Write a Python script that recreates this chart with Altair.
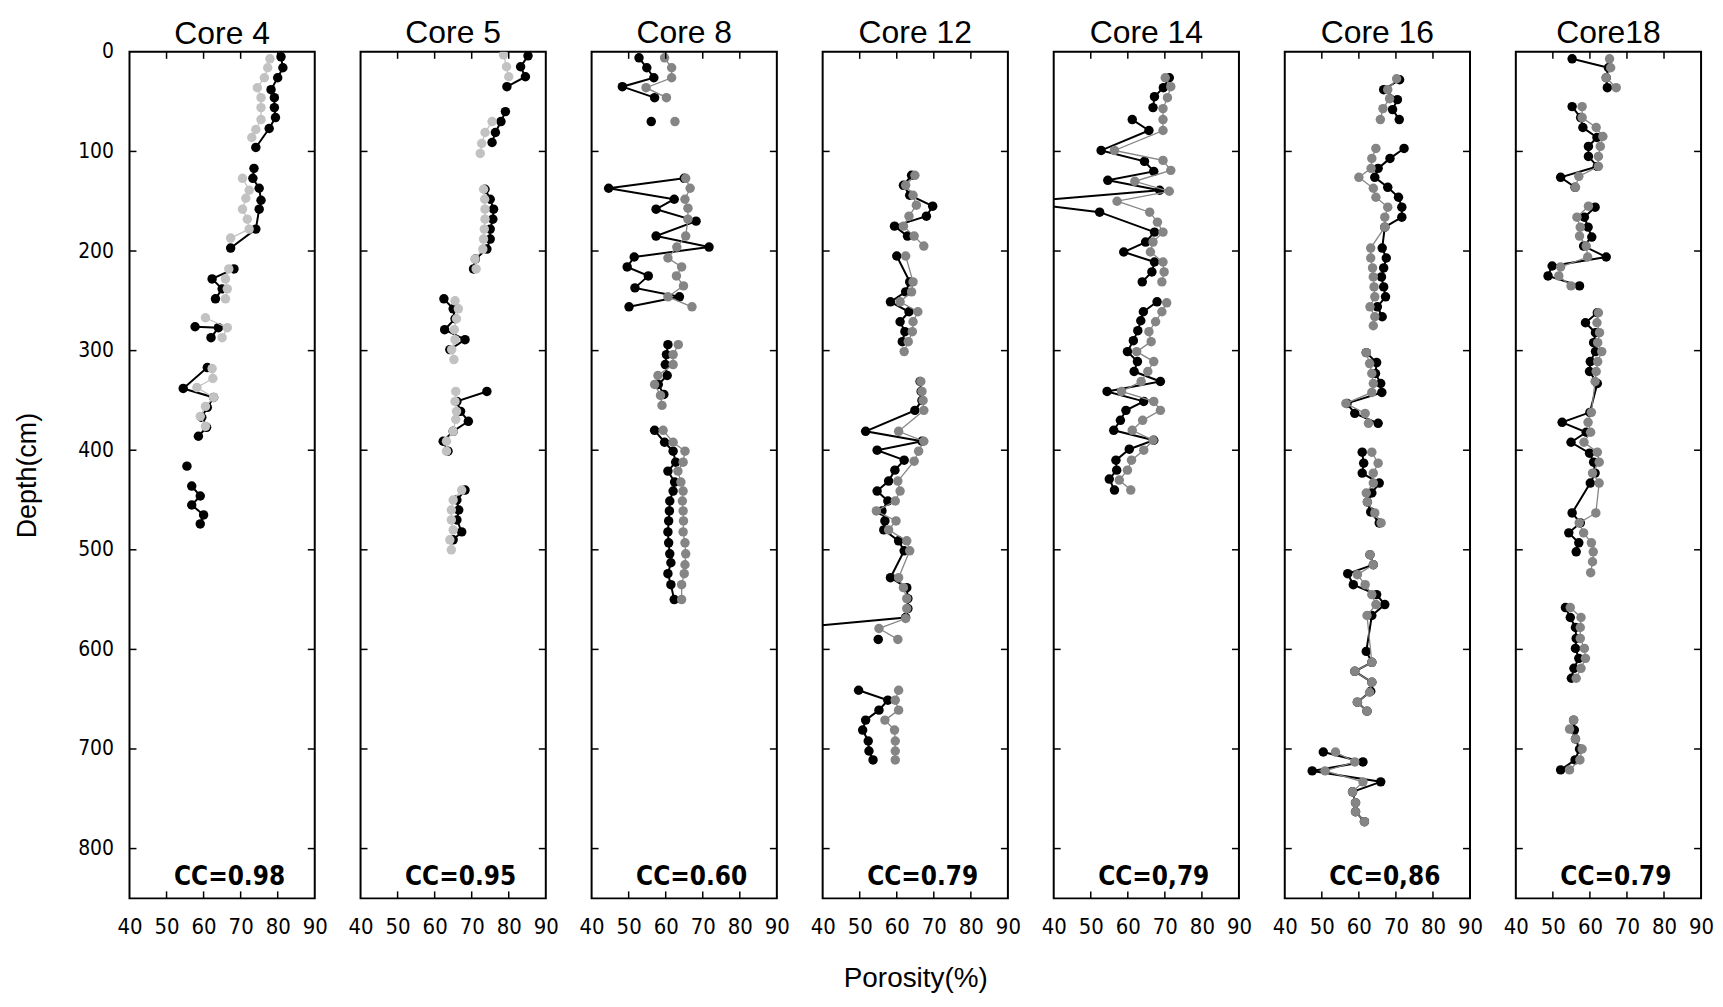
import altair as alt
import pandas as pd

CORES = ["Core 4", "Core 5", "Core 8", "Core 12", "Core 14", "Core 16", "Core18"]
CC_LABELS = ["CC=0.98", "CC=0.95", "CC=0.60", "CC=0.79", "CC=0,79", "CC=0,86", "CC=0.79"]
X_TICKS = [40, 50, 60, 70, 80, 90]
Y_TICKS = [0, 100, 200, 300, 400, 500, 600, 700, 800]

# each list: segments of (depth cm, porosity %)
CORE4_BLACK = [
    [(5, 80.9), (16, 81.4), (26, 80), (38, 78.2), (46, 79.1), (56, 79.1), (66, 79.4), (77, 77.7), (96, 74.1)],
    [(117, 73.6), (127, 73.3), (137, 75), (149, 75.5), (158, 75), (178, 74.1), (197, 67.3)],
    [(218, 68.2), (228, 62.3), (238, 65), (248, 63.2)],
    [(276, 57.7), (277, 64), (287, 62)],
    [(317, 61), (338, 54.5), (347, 62.7), (357, 61), (367, 59.5), (377, 60.8), (386, 58.6)],
    [(416, 55.5)],
    [(436, 56.8), (446, 59.1), (455, 56.8), (465, 60), (474, 59.1)],
]
CORE4_GRAY = [
    [(7, 77.9), (16, 77.3), (26, 76.4), (36, 74.5), (46, 75.5), (56, 75.5), (68, 75.5), (78, 74.1), (86, 73)],
    [(127, 70.5), (139, 72.3), (147, 71.4), (158, 70.5), (168, 71.8), (178, 72.3), (187, 67.3)],
    [(218, 66.8), (228, 65.9), (238, 66.4), (248, 65.9)],
    [(267, 60.5), (277, 66.4), (287, 65)],
    [(318, 62.3), (328, 62.5), (337, 58.2), (347, 62.7), (356, 60.5), (366, 59.1), (376, 60.5)],
]
CORE5_BLACK = [
    [(4, 85.2), (15, 83.2), (25, 84.5), (35, 79.5)],
    [(60, 79.1), (70, 77.9), (81, 76.4), (91, 75.5)],
    [(138, 73.6), (148, 75), (158, 75.9), (168, 75.7), (178, 75), (188, 75), (198, 74.1), (208, 71), (218, 70.5)],
    [(248, 62.5), (258, 65), (268, 65.5), (279, 62.7), (289, 68.2), (299, 64.1)],
    [(341, 74.1), (351, 66), (361, 67), (371, 69.1), (381, 65), (391, 62.3), (401, 63.6)],
    [(440, 68.2), (450, 66), (460, 66.5), (470, 66), (482, 67.3), (490, 65)],
]
CORE5_GRAY = [
    [(3, 78.6), (15, 79.4), (25, 80)],
    [(70, 75.5), (81, 73.6), (92, 72.7), (102, 72.3)],
    [(138, 73.2), (148, 73.5), (158, 73.6), (168, 73.6), (178, 73.4), (188, 73.2), (198, 73), (208, 70.9), (218, 71.2)],
    [(250, 65.5), (258, 66.4), (268, 65.9), (279, 65.3), (289, 65.5), (299, 64.6), (309, 65.2)],
    [(341, 65.7), (351, 65.5), (361, 65.9), (369, 65.7), (381, 65), (391, 63.2), (401, 63.2)],
    [(440, 67.3), (450, 65), (460, 64.5), (470, 64.5), (480, 65), (490, 64.1), (500, 64.5)],
]
CORE8_BLACK = [
    [(6, 52.8), (16, 54.9), (26, 56.8), (35, 48.3), (46, 57)],
    [(70, 56.1)],
    [(127, 65), (137, 44.6), (148, 62.3), (158, 57.4), (170, 68.2), (185, 57.4), (196, 71.7), (206, 51.5),
     (216, 49.6), (225, 55.3), (237, 51.7), (246, 63.7), (256, 50.1)],
    [(294, 60.6), (304, 60.2), (314, 59.9), (325, 60.4), (334, 58), (344, 59.5)],
    [(380, 57), (392, 59.7), (401, 62), (412, 62.7), (421, 60.6), (432, 62.4), (441, 62), (451, 61.1), (461, 61),
     (471, 60.8), (482, 60.6), (493, 60.8), (504, 61.1), (513, 61.4), (524, 60.6), (535, 61.4), (550, 62.3)],
]
CORE8_GRAY = [
    [(6, 59.7), (16, 61.6), (26, 61.6), (36, 54.7), (46, 60.2)],
    [(70, 62.5)],
    [(127, 65.4), (137, 66.6), (148, 65.2), (157, 66), (168, 66), (185, 65.4), (196, 63), (207, 60.6), (216, 64.3),
     (225, 62.9), (235, 64.8), (246, 60.6), (256, 67.1)],
    [(294, 63.4), (304, 62), (314, 62), (325, 57.9), (334, 57), (345, 58.6), (355, 59)],
    [(380, 59.3), (392, 62), (401, 65.2), (412, 64.7), (421, 63.3), (432, 64.1), (441, 64.7), (451, 64.5),
     (461, 64.7), (471, 64.8), (482, 64.7), (493, 65.2), (504, 65.4), (515, 65.2), (524, 65), (535, 64.3), (550, 64.3)],
]
CORE12_BLACK = [
    [(124, 64), (134, 61.8), (144, 63.5), (155, 69.7), (165, 68), (175, 59.4), (185, 62.9)],
    [(205, 60), (231, 63.5), (241, 62.4), (251, 58.3), (261, 63.3), (271, 60.9), (281, 62.2), (291, 61.5)],
    [(331, 66.3), (341, 66.6), (350, 66.8), (360, 64.9), (381, 51.6), (391, 66.8), (400, 54.7), (410, 62),
     (420, 59.5), (431, 57.8), (441, 54.7), (451, 57.6), (461, 56), (471, 56.8), (480, 56.5), (491, 60.5),
     (501, 62), (528, 58.3), (538, 62.7), (549, 63), (559, 63), (568, 62.4), (579, 30)],
    [(590, 55)],
    [(641, 49.7), (651, 57.6), (661, 55.2), (671, 51.6), (681, 50.8), (692, 52.3), (702, 52.5), (711, 53.6)],
]
CORE12_GRAY = [
    [(124, 64.9), (134, 62.4), (144, 64.4), (154, 65.3), (165, 63.3), (175, 61.8), (185, 64.7), (195, 67.3)],
    [(205, 62.4), (231, 64.4), (241, 64), (251, 60.9), (261, 65.7), (271, 64.4), (281, 64.2), (291, 63.1), (301, 62)],
    [(331, 66.5), (341, 66.8), (350, 67.1), (360, 67.3), (381, 60.5), (391, 67.3), (401, 65.9), (411, 64.7),
     (431, 60.3), (441, 60.9), (451, 59.6), (461, 54.5), (471, 59.8), (480, 57.8), (491, 62.7), (501, 63.5),
     (528, 60.5), (538, 61.8), (549, 62.7), (559, 62.7), (569, 62.4), (579, 55.2), (590, 60.3)],
    [(641, 60.5), (651, 59.6), (661, 60.5), (671, 56.8), (681, 59.4), (692, 59.6), (702, 59.6), (711, 59.6)],
]
CORE14_BLACK = [
    [(26, 71.2), (36, 69.6), (45, 67.2), (56, 66.8)],
    [(68, 61.2), (79, 65.7), (99, 52.8), (110, 64.5), (120, 67), (129, 54.6), (139, 68.6), (151, 30), (161, 52.4),
     (181, 67.2), (191, 64.8), (201, 58.9), (211, 67.2), (221, 66.5), (231, 63.9)],
    [(251, 67.9), (261, 64.2), (270, 63.5), (280, 62.7), (290, 61.5), (301, 59.9), (311, 62.6), (321, 61.7),
     (331, 68.8), (341, 54.4), (351, 64.3), (360, 59.5), (370, 58), (380, 56.2), (390, 67), (399, 60.4),
     (410, 56.8), (420, 57), (429, 55), (440, 56.4)],
]
CORE14_GRAY = [
    [(26, 70.1), (35, 71.6), (46, 70.7), (57, 69.5), (68, 69.5), (79, 69.5), (99, 56.4), (109, 69.5), (119, 71.6),
     (130, 61.9), (140, 71.2), (150, 57.1), (161, 65.9), (171, 68), (181, 69.5), (191, 66.8), (201, 66.1),
     (211, 69.5), (221, 69.8), (231, 69.2)],
    [(252, 70.5), (261, 69.2), (271, 67.5), (281, 65.7), (291, 66.3), (301, 62.4), (311, 67), (321, 65.4),
     (331, 63.6), (341, 58.3), (351, 67), (360, 68.8), (370, 64), (380, 61.2), (390, 66.8), (400, 64.3),
     (410, 61), (420, 59.9), (430, 57.7), (440, 60.8)],
]
CORE16_BLACK = [
    [(28, 71), (38, 66.7), (48, 70.4), (58, 69.1), (68, 70.9)],
    [(97, 72.2), (107, 68.4), (117, 65.2), (126, 64.3), (136, 67.8), (146, 70.7), (156, 71.6), (166, 71.6),
     (176, 67), (197, 66.3), (207, 67.4), (217, 66.7), (226, 66.1), (236, 66.7), (246, 67.2), (256, 65), (266, 66.3)],
    [(302, 62), (312, 64.8), (323, 64.5), (333, 65.9), (342, 66.2), (353, 56.8), (363, 58.9), (373, 65.2)],
    [(402, 60.9), (413, 61.3), (423, 60.9), (433, 65.5), (443, 63.5), (452, 62.3), (462, 63.2), (473, 65.5)],
    [(505, 63), (515, 63.9), (524, 57), (535, 58.5), (545, 64.8), (555, 67), (566, 63.5), (602, 62), (613, 63.5),
     (622, 58.9), (633, 63.5), (642, 63.2), (653, 59.6), (662, 62.2)],
    [(703, 50.4), (713, 61.1), (722, 47.4), (733, 65.9), (743, 58.3), (754, 59.1), (763, 59.1), (773, 61.5)],
]
CORE16_GRAY = [
    [(27, 70.2), (38, 67.8), (47, 68.3), (57, 66.5), (68, 65.8)],
    [(97, 64.6), (107, 63.5), (117, 63.3), (126, 60), (137, 63.9), (146, 64.6), (156, 67.8), (166, 67), (176, 67),
     (197, 63.2), (207, 63.2), (217, 63.7), (226, 63.9), (236, 64.1), (246, 64.3), (256, 63), (266, 64.3), (275, 63.9)],
    [(302, 62), (313, 62.9), (323, 63.5), (333, 63.9), (342, 63.5), (353, 56.5), (363, 61.7), (373, 62.6)],
    [(402, 63.5), (413, 65.2), (423, 63.9), (433, 63.9), (443, 62), (452, 62.3), (463, 64.3), (473, 66)],
    [(505, 63), (515, 63.9), (525, 59.6), (535, 61.7), (545, 63.5), (555, 64.6), (566, 62.2), (613, 63.5),
     (622, 58.9), (633, 63.5), (643, 62.9), (653, 59.6), (662, 62.2)],
    [(703, 53.7), (713, 58.9), (722, 50.9), (733, 61.1), (743, 58.3), (754, 59.1), (763, 59.1), (773, 61.5)],
]
CORE18_BLACK = [
    [(7, 55.2), (16, 65), (26, 64.4), (36, 64.7)],
    [(55, 55.2), (66, 57.5), (76, 58.1), (86, 61.9), (95, 59.6), (105, 59.6), (115, 62), (126, 52.1), (136, 56)],
    [(156, 61.4), (166, 58.5), (176, 59.5), (186, 60.5), (195, 58.3), (206, 64.4), (215, 49.8), (225, 48.7), (235, 57.2)],
    [(262, 62), (272, 58.8), (282, 61.5), (292, 61), (301, 61.5), (311, 60.1), (321, 59.9), (333, 62), (362, 60),
     (372, 52.5), (382, 59), (392, 54.9), (403, 59.9), (412, 61), (423, 61.4), (433, 60.1), (463, 55.2),
     (473, 57.4), (483, 54.3), (493, 57), (502, 56.3)],
    [(558, 53.4), (568, 54.7), (578, 56.1), (589, 56.3), (599, 56.1), (609, 57), (619, 55.7), (629, 55)],
    [(671, 55.6), (681, 55.8), (690, 56.1), (700, 57.2), (711, 56), (721, 52.1)],
]
CORE18_GRAY = [
    [(7, 65.3), (16, 65.6), (26, 64.4), (36, 67.1)],
    [(55, 57.9), (66, 57.9), (76, 61.7), (85, 63.5), (95, 62.8), (105, 62.3), (115, 62.3), (125, 57), (136, 56.1)],
    [(155, 59.6), (166, 56.5), (176, 57.4), (185, 57.2), (195, 59), (206, 59.4), (216, 52.1), (225, 51.6), (235, 54.9)],
    [(262, 62.3), (272, 61.9), (282, 62.6), (292, 62.1), (301, 63.2), (311, 62.1), (321, 61.7), (331, 61.4),
     (362, 60.4), (372, 59.5), (382, 60.2), (392, 58.4), (402, 62), (412, 62.5), (423, 60.7), (433, 62.5),
     (463, 61.6), (473, 57.1), (483, 58.3), (493, 60.4), (502, 60.9), (512, 60.7), (523, 60.2)],
    [(558, 54.7), (568, 57.6), (578, 57.4), (589, 57.4), (599, 58.5), (609, 58.8), (619, 57.6), (629, 56.3)],
    [(671, 55.6), (680, 54.5), (690, 56.1), (700, 57.9), (711, 57.3), (721, 54.5)],
]

BLACKS = [CORE4_BLACK, CORE5_BLACK, CORE8_BLACK, CORE12_BLACK, CORE14_BLACK, CORE16_BLACK, CORE18_BLACK]
GRAYS = [CORE4_GRAY, CORE5_GRAY, CORE8_GRAY, CORE12_GRAY, CORE14_GRAY, CORE16_GRAY, CORE18_GRAY]
GRAY_COLORS = ["#c2c2c2", "#c2c2c2", "#858585", "#858585", "#858585", "#858585", "#858585"]

NARROW = "Liberation Sans Narrow, DejaVu Sans Condensed, Liberation Sans"
W, H = 186, 850


def to_frame(segs, tag):
    rows = []
    for k, seg in enumerate(segs):
        for d, p in seg:
            rows.append({"depth": d, "por": p, "seg": f"{tag}{k}"})
    return pd.DataFrame(rows)


def panel(i):
    first = i == 0
    yscale = alt.Scale(domain=[0, 850], reverse=True, nice=False, zero=False)
    xscale = alt.Scale(domain=[40, 90], nice=False, zero=False)
    if first:
        yaxis = alt.Axis(values=Y_TICKS, tickSize=0, labelPadding=16, domain=False, grid=False,
                         title="Depth(cm)", titleFontSize=27, titlePadding=36, titleFontWeight="normal",
                         labelFontSize=21, labelFont=NARROW, labelOverlap=False, labelFlush=False)
    else:
        yaxis = None
    common = dict(values=X_TICKS, tickSize=0, labelPadding=18, domain=False, grid=False,
                  labelFontSize=22, labelFont=NARROW, labelOverlap=False, labelFlush=False)
    if i == 3:
        xaxis = alt.Axis(title="Porosity(%)", titleFontSize=28, titleFontWeight="normal",
                         titlePadding=27, **common)
    else:
        xaxis = alt.Axis(title=None, **common)
    X = alt.X("por:Q", scale=xscale, axis=xaxis)
    Y = alt.Y("depth:Q", scale=yscale, axis=yaxis)

    bdf = to_frame(BLACKS[i], "b")
    gdf = to_frame(GRAYS[i], "g")
    gcol = GRAY_COLORS[i]

    black_line = alt.Chart(bdf).mark_line(color="black", strokeWidth=2, clip=True).encode(
        x=X, y=Y, detail="seg:N", order="depth:Q")
    black_pts = alt.Chart(bdf).mark_circle(color="black", size=90, opacity=1, clip=True).encode(x=X, y=Y)
    gray_line = alt.Chart(gdf).mark_line(color=gcol, strokeWidth=1.3, clip=True).encode(
        x=X, y=Y, detail="seg:N", order="depth:Q")
    gray_pts = alt.Chart(gdf).mark_circle(color=gcol, size=90, opacity=1, clip=True).encode(x=X, y=Y)

    ytk = pd.DataFrame({"depth": Y_TICKS[1:]})
    xtk = pd.DataFrame({"por": X_TICKS[1:-1]})
    ltick = alt.Chart(ytk).mark_rule(color="black", strokeWidth=1.5).encode(
        y=Y, x=alt.value(0), x2=alt.value(7))
    rtick = alt.Chart(ytk).mark_rule(color="black", strokeWidth=1.5).encode(
        y=Y, x=alt.value(W - 7), x2=alt.value(W))
    ttick = alt.Chart(xtk).mark_rule(color="black", strokeWidth=1.5).encode(
        x=X, y=alt.value(0), y2=alt.value(7))
    btick = alt.Chart(xtk).mark_rule(color="black", strokeWidth=1.5).encode(
        x=X, y=alt.value(H - 7), y2=alt.value(H))

    cc = alt.Chart(pd.DataFrame({"por": [67], "depth": [829], "label": [CC_LABELS[i]]})).mark_text(
        font=NARROW, fontWeight="bold", fontSize=26, color="black", align="center", baseline="middle"
    ).encode(x=X, y=Y, text="label:N")

    return alt.layer(black_line, black_pts, gray_line, gray_pts, ltick, rtick, ttick, btick, cc).properties(
        width=W, height=H,
        title=alt.TitleParams(CORES[i], fontSize=32, fontWeight="normal", offset=(-10 if first else 1),
                              anchor="middle", font="Liberation Sans", color="black"))


chart = alt.hconcat(*[panel(i) for i in range(7)], spacing=46, bounds="flush").properties(
    padding={"left": 4, "top": 6, "right": 0, "bottom": 0}
).configure(font="Liberation Sans", background="white").configure_view(
    stroke="black", strokeWidth=2
).configure_axis(labelColor="black", titleColor="black", titleFont="Liberation Sans")

chart.save("out.html", embed_options={"renderer": "svg", "actions": False})
